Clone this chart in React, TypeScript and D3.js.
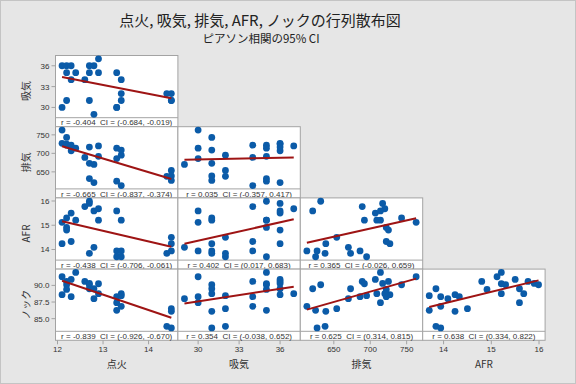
import React from "react";
import * as d3 from "d3";

// one observation per index, shared by every panel
const varNames = ["点火", "吸気", "排気", "AFR", "ノック"];
const ignition = [12.1, 12.1, 12.2, 12.2, 12.2, 12.3, 12.3, 12.4, 12.6, 12.7, 12.7, 12.7, 12.8, 12.8, 12.9, 12.9, 13.3, 13.3, 13.3, 13.4, 13.4, 13.4, 14.4, 14.5, 14.5, 14.5];
const intake = [30, 36, 31, 35, 36, 34, 36, 35, 34, 31, 36, 35, 29, 36, 37, 35, 30, 30, 35, 34, 32, 31, 32, 32, 31, 31];
const exhaust = [763, 727, 743, 722, 725, 722, 707, 714, 689, 673, 717, 632, 670, 621, 720, 692, 714, 686, 625, 613, 695, 709, 638, 654, 639, 627];
const afr = [15.12, 14.24, 15.3, 14.91, 14.8, 14.33, 15.5, 15.21, 15.77, 13.84, 15.9, 15.99, 14.09, 15.59, 15.68, 15.21, 15.59, 13.94, 13.7, 13.94, 13.7, 15.21, 13.84, 14.5, 14.24, 13.94];
const knock = [91.3, 88.6, 90.1, 89.4, 90.6, 88.3, 90.9, 91.95, 90.6, 89.5, 90.3, 90.1, 88.0, 89.5, 88.75, 90.25, 87.4, 88.3, 86.25, 86.85, 88.45, 88.75, 83.85, 86.5, 86.1, 83.6];

const tickValues = [
  [12, 13, 14],
  [30, 33, 36],
  [650, 700, 750],
  [14, 15, 16],
  [85, 87.5, 90],
];
const tickFormats = [".0f", ".0f", ".0f", ".0f", ".1f"];

// rows: 吸気, 排気, AFR, ノック ; columns: 点火, 吸気, 排気, AFR
const corrLabels = [
  ["r = -0.404  CI = (-0.684, -0.019)"],
  ["r = -0.665  CI = (-0.837, -0.374)", "r = 0.035  CI = (-0.357, 0.417)"],
  ["r = -0.438  CI = (-0.706, -0.061)", "r = 0.402  CI = (0.017, 0.683)", "r = 0.365  CI = (-0.026, 0.659)"],
  ["r = -0.839  CI = (-0.926, -0.670)", "r = 0.354  CI = (-0.038, 0.652)", "r = 0.625  CI = (0.314, 0.815)", "r = 0.638  CI = (0.334, 0.822)"],
];

const columns = [ignition, intake, exhaust, afr, knock];

const W = 576;
const H = 384;
const left = 55.5;
const top = 55.5;
const colW = 122.4;
const rowH = 71.2;
const stripH = 9;
const plotH = rowH - stripH;
const pad = 0.06;

const dotColor = "#0b5ba8";
const lineColor = "#9e1414";
const frame = "#a3a3a3";
const textColor = "#333";
const font = "'Liberation Sans', Arial, sans-serif";
const jpFont = "'Noto Sans CJK JP', 'Noto Sans', sans-serif";

function paddedDomain(v: number[]): [number, number] {
  const [lo, hi] = d3.extent(v) as [number, number];
  const r = hi - lo;
  return [lo - r * pad, hi + r * pad];
}

function fit(xs: number[], ys: number[]) {
  const mx = d3.mean(xs)!;
  const my = d3.mean(ys)!;
  let sxy = 0;
  let sxx = 0;
  xs.forEach((x, i) => {
    sxy += (x - mx) * (ys[i] - my);
    sxx += (x - mx) * (x - mx);
  });
  const b = sxy / sxx;
  return { b, a: my - b * mx };
}

const domains = columns.map(paddedDomain);

const xScales = [0, 1, 2, 3].map((c) =>
  d3.scaleLinear().domain(domains[c]).range([left + c * colW, left + (c + 1) * colW])
);
const yScales = [1, 2, 3, 4].map((v, r) =>
  d3.scaleLinear().domain(domains[v]).range([top + r * rowH + plotH, top + r * rowH])
);

const App = () => {
  const panels: React.ReactNode[] = [];

  for (let r = 0; r < 4; r++) {
    const yv = r + 1;
    const y = yScales[r];
    const py = top + r * rowH;
    for (let c = 0; c <= r; c++) {
      const x = xScales[c];
      const px = left + c * colW;
      const xs = columns[c];
      const ys = columns[yv];
      const { a, b } = fit(xs, ys);
      const [x0, x1] = d3.extent(xs) as [number, number];
      const line = d3.line<number>()
        .x((d) => x(d))
        .y((d) => y(a + b * d));

      panels.push(
        <g key={`p${r}${c}`}>
          <rect x={px} y={py} width={colW} height={rowH} fill="#fff" stroke={frame} />
          <line x1={px} x2={px + colW} y1={py + plotH} y2={py + plotH} stroke={frame} />
          {xs.map((xv, i) => (
            <circle key={i} cx={x(xv)} cy={y(ys[i])} r={3.4} fill={dotColor} />
          ))}
          <path d={line([x0, x1]) || ""} fill="none" stroke={lineColor} strokeWidth={2} />
          <text
            x={px + colW / 2}
            y={py + plotH + 7.6}
            textAnchor="middle"
            fontSize={8}
            fontFamily={font}
            fill={textColor}
            style={{ whiteSpace: "pre" }}
          >
            {corrLabels[r][c]}
          </text>
        </g>
      );
    }
  }

  const bottom = top + 4 * rowH;

  return (
    <svg
      width={W}
      height={H}
      style={{ position: "absolute", left: 0, top: 0, display: "block" }}
    >
      <rect x={0.5} y={0.5} width={W - 1} height={H - 1} fill="#e6e6e6" stroke="#c4c4c4" />
      <text x={260} y={26} textAnchor="middle" fontSize={15} fontFamily={jpFont} fill="#222">
        点火, 吸気, 排気, AFR, ノックの行列散布図
      </text>
      <text x={261} y={43} textAnchor="middle" fontSize={11.5} fontFamily={jpFont} fill="#222">
        ピアソン相関の95% CI
      </text>

      {panels}

      {/* left axes */}
      {[0, 1, 2, 3].map((r) => {
        const y = yScales[r];
        const v = r + 1;
        const fmt = d3.format(tickFormats[v]);
        return (
          <g key={`ly${r}`}>
            {tickValues[v].map((t) => (
              <g key={t}>
                <line x1={left - 4} x2={left} y1={y(t)} y2={y(t)} stroke={frame} />
                <text
                  x={left - 6}
                  y={y(t) + 3}
                  textAnchor="end"
                  fontSize={8}
                  fontFamily={font}
                  fill={textColor}
                >
                  {fmt(t)}
                </text>
              </g>
            ))}
            <text
              transform={`translate(30,${top + r * rowH + rowH / 2}) rotate(-90)`}
              textAnchor="middle"
              fontSize={10}
              fontFamily={jpFont}
              fill={textColor}
            >
              {varNames[v]}
            </text>
          </g>
        );
      })}

      {/* bottom axes */}
      {[0, 1, 2, 3].map((c) => {
        const x = xScales[c];
        const fmt = d3.format(tickFormats[c]);
        return (
          <g key={`bx${c}`}>
            {tickValues[c].map((t) => (
              <g key={t}>
                <line x1={x(t)} x2={x(t)} y1={bottom} y2={bottom + 4} stroke={frame} />
                <text
                  x={x(t)}
                  y={bottom + 12}
                  textAnchor="middle"
                  fontSize={8}
                  fontFamily={font}
                  fill={textColor}
                >
                  {fmt(t)}
                </text>
              </g>
            ))}
            <text
              x={left + c * colW + colW / 2}
              y={bottom + 28}
              textAnchor="middle"
              fontSize={10}
              fontFamily={jpFont}
              fill={textColor}
            >
              {varNames[c]}
            </text>
          </g>
        );
      })}
    </svg>
  );
};

export default App;
